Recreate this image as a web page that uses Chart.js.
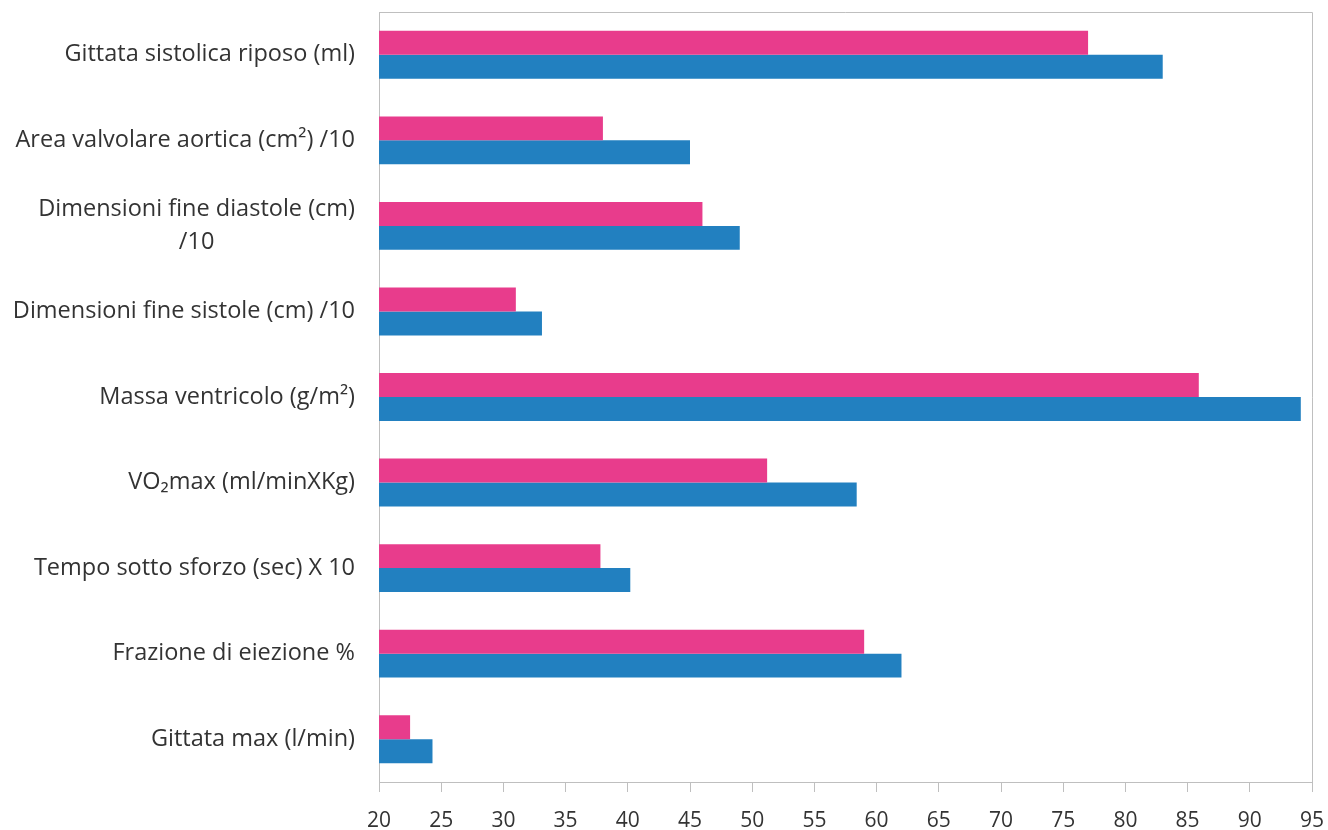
<!DOCTYPE html>
<html>
<head>
<meta charset="utf-8">
<script src="https://cdn.jsdelivr.net/npm/chart.js@4.4.1/dist/chart.umd.min.js"></script>
<style>
html,body{margin:0;padding:0;background:#fff;}
#wrap{width:1328px;height:830px;position:relative;}
</style>
</head>
<body>
<div id="wrap"><canvas id="c" width="1328" height="830"></canvas></div>
<script>
const categories = [
  ["Gittata sistolica riposo (ml)"],
  ["Area valvolare aortica (cm\u00B2) /10"],
  ["Dimensioni fine diastole (cm)", "/10"],
  ["Dimensioni fine sistole (cm) /10"],
  ["Massa ventricolo (g/m\u00B2)"],
  ["VO\u2082max (ml/minXKg)"],
  ["Tempo sotto sforzo (sec) X 10"],
  ["Frazione di eiezione %"],
  ["Gittata max (l/min)"]
];
const seriesPink = [77, 38, 46, 31, 85.9, 51.2, 37.8, 59, 22.5];
const seriesBlue = [83, 45, 49, 33.1, 94.1, 58.4, 40.2, 62, 24.3];
const xTicks = [20, 25, 30, 35, 40, 45, 50, 55, 60, 65, 70, 75, 80, 85, 90, 95];

const FONT = "'Open Sans', 'DejaVu Sans', sans-serif";
const TEXT = '#333333';
const AXIS = '#bfbfbf';

const labelPlugin = {
  id: 'catLabels',
  afterDraw(chart) {
    const ctx = chart.ctx;
    const y = chart.scales.y;
    const area = chart.chartArea;
    ctx.save();
    ctx.font = '23.5px ' + FONT;
    ctx.fillStyle = TEXT;
    ctx.textBaseline = 'middle';
    ctx.textAlign = 'center';
    const lh = 33;
    categories.forEach((lines, i) => {
      const cy = y.getPixelForValue(i);
      const maxW = Math.max(...lines.map(l => ctx.measureText(l).width));
      const cx = area.left - 24 - maxW / 2;
      const y0 = cy - (lines.length - 1) * lh / 2;
      lines.forEach((l, j) => ctx.fillText(l, cx, y0 + j * lh));
    });
    ctx.restore();
  }
};

const framePlugin = {
  id: 'frame',
  afterDatasetsDraw(chart) {
    const ctx = chart.ctx, a = chart.chartArea;
    ctx.save();
    ctx.strokeStyle = AXIS;
    ctx.lineWidth = 1;
    ctx.beginPath();
    ctx.moveTo(a.left, a.top + 0.5);
    ctx.lineTo(a.right + 0.5, a.top + 0.5);
    ctx.lineTo(a.right + 0.5, a.bottom);
    ctx.stroke();
    ctx.restore();
  }
};

new Chart(document.getElementById('c'), {
  type: 'bar',
  data: {
    labels: categories.map(l => l.join(' ')),
    datasets: [
      { data: seriesPink, backgroundColor: '#E83C8C', borderWidth: 0 },
      { data: seriesBlue, backgroundColor: '#2280C0', borderWidth: 0 }
    ]
  },
  options: {
    indexAxis: 'y',
    responsive: false,
    animation: false,
    categoryPercentage: 0.56,
    barPercentage: 1,
    layout: { padding: { left: 0, right: 16, top: 12, bottom: 0 } },
    plugins: { legend: { display: false }, tooltip: { enabled: false } },
    scales: {
      x: {
        type: 'linear',
        min: 20, max: 95,
        afterBuildTicks(scale) { scale.ticks = xTicks.map(v => ({ value: v })); },
        afterFit(scale) { scale.height = 48; scale.paddingRight = 0; scale.paddingLeft = 0; },
        grid: { display: true, drawOnChartArea: false, drawTicks: true, tickLength: 10, color: AXIS },
        border: { display: true, color: AXIS },
        ticks: { color: TEXT, font: { family: FONT, size: 21 }, padding: 16, maxRotation: 0, autoSkip: false }
      },
      y: {
        afterFit(scale) { scale.width = 379; },
        grid: { display: false },
        border: { display: true, color: AXIS },
        ticks: { display: false }
      }
    }
  },
  plugins: [labelPlugin, framePlugin]
});
</script>
</body>
</html>
